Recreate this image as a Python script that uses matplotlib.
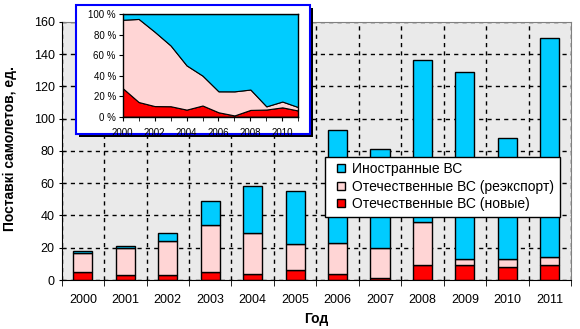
import numpy as np
import matplotlib
matplotlib.use("Agg")
import matplotlib.pyplot as plt
from matplotlib.patches import Rectangle
from matplotlib.lines import Line2D

plt.rcParams['font.family'] = ['Liberation Sans', 'DejaVu Sans']

years = [2000, 2001, 2002, 2003, 2004, 2005, 2006, 2007, 2008, 2009, 2010, 2011]
new_dom = [5, 3, 3, 5, 4, 6, 4, 1, 9, 9, 8, 9]
reexport = [12, 17, 21, 29, 25, 16, 19, 19, 27, 4, 5, 5]
foreign = [1, 1, 5, 15, 29, 33, 70, 61, 100, 116, 75, 136]

labels = ['Иностранные ВС', 'Отечественные ВС (реэкспорт)', 'Отечественные ВС (новые)']
c_blue = '#00CCFF'
c_pink = '#FFD5D5'
c_red = '#FF0000'

new_dom = np.array(new_dom)
reexport = np.array(reexport)
foreign = np.array(foreign)
total = new_dom + reexport + foreign

fig = plt.figure(figsize=(5.8, 3.29), dpi=100)
ax = fig.add_axes([0.1063, 0.1489, 0.8782, 0.7851])
ax.set_facecolor('#EAEAEA')

x = np.arange(len(years))
w = 0.45
ax.bar(x, new_dom, w, color=c_red, edgecolor='black', lw=1, zorder=3)
ax.bar(x, reexport, w, bottom=new_dom, color=c_pink, edgecolor='black', lw=1, zorder=3)
ax.bar(x, foreign, w, bottom=new_dom + reexport, color=c_blue, edgecolor='black', lw=1, zorder=3)

ax.set_xlim(-0.5, len(years) - 0.5)
ax.set_ylim(0, 160)
ax.set_yticks(range(0, 161, 20))
ax.set_xticks(x)
ax.set_xticklabels([str(y) for y in years], fontsize=9)
ax.set_xticks(np.arange(-0.5, len(years)), minor=True)
ax.tick_params(axis='x', which='major', length=0, pad=10)
ax.tick_params(axis='x', which='minor', length=4, direction='out', color='black')
ax.tick_params(axis='y', labelsize=9, length=4, direction='inout', pad=3)
ax.grid(True, which='minor', axis='x', color='black', ls=(0, (3, 3)), lw=1, zorder=1)
ax.grid(True, which='major', axis='y', color='black', ls=(0, (3, 3)), lw=1, zorder=1)
for s in ['top', 'right']:
    ax.spines[s].set_color('#808080')
for s in ['left', 'bottom']:
    ax.spines[s].set_color('black')
    ax.spines[s].set_zorder(4)

ax.set_xlabel('Год', fontsize=10, fontweight='bold')
ax.xaxis.set_label_coords(0.5, -0.15)
ax.xaxis.label.set_va('center')
ax.set_ylabel('Поставкі самолетов, ед.', fontsize=10, fontweight='bold')
ax.yaxis.set_label_coords(-0.101, 0.51)
ax.yaxis.label.set_va('center')

handles = [Line2D([], [], ls='none', marker='s', markersize=6, markerfacecolor=c,
                  markeredgecolor='black', markeredgewidth=1)
           for c in [c_blue, c_pink, c_red]]
leg = ax.legend(handles, labels, loc='upper right', bbox_to_anchor=(0.9655, 0.5237),
                bbox_transform=fig.transFigure, fontsize=10, frameon=True, fancybox=False,
                edgecolor='black', framealpha=1, borderpad=0.4, labelspacing=0.25,
                handlelength=1.5, handletextpad=0.05, borderaxespad=0)
leg.get_frame().set_linewidth(1)
leg.set_zorder(6)

# inset frame with shadow
fig.patches.append(Rectangle((79 / 580, 1 - 137 / 329), 234 / 580, 129.3 / 329,
                             transform=fig.transFigure, facecolor='black', edgecolor='none', zorder=7))
fig.patches.append(Rectangle((76 / 580, 1 - 134 / 329), 234 / 580, 129.3 / 329,
                             transform=fig.transFigure, facecolor='white', edgecolor='#0000FF',
                             lw=1.5, zorder=8))

ins = fig.add_axes([0.2116, 0.6453, 0.3027, 0.312], zorder=9)
p_red = new_dom / total * 100
p_pink = reexport / total * 100
p_blue = foreign / total * 100
ins.stackplot(years, p_red, p_pink, p_blue, colors=[c_red, c_pink, c_blue],
              edgecolor='black', lw=0.8)
ins.set_xlim(2000, 2011)
ins.set_ylim(0, 100)
ins.set_yticks(range(0, 101, 20))
ins.set_yticklabels([f'{v} %' for v in range(0, 101, 20)], fontsize=7)
ins.set_xticks(range(2000, 2012, 2))
ins.set_xticklabels([str(v) for v in range(2000, 2012, 2)], fontsize=7)
ins.set_xticks(range(2000, 2012), minor=True)
ins.tick_params(axis='both', which='both', length=3, direction='out', pad=2)
ins.tick_params(axis='x', pad=5)
for s in ins.spines.values():
    s.set_color('black')
    s.set_linewidth(1)

fig.savefig('out.png', dpi=100)
